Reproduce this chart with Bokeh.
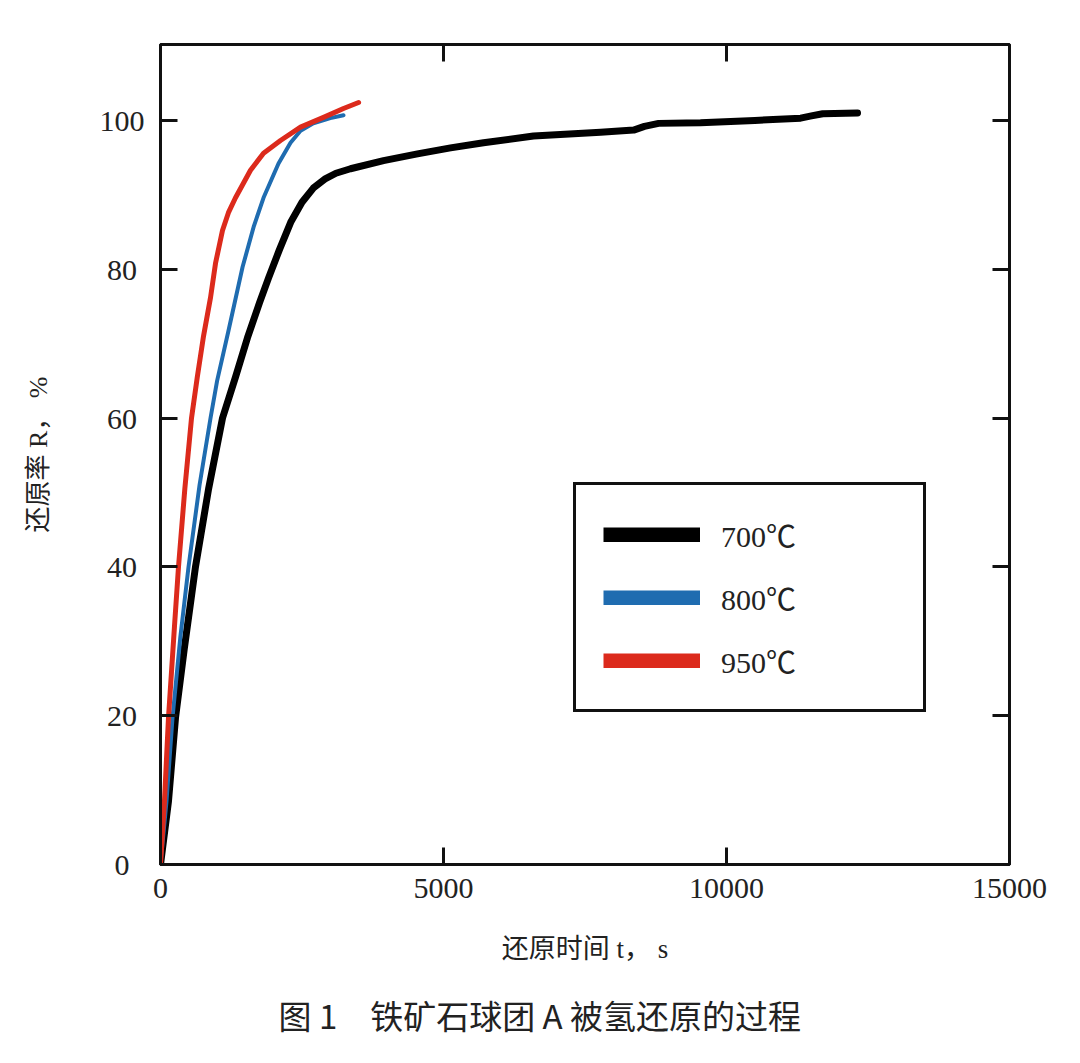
from bokeh.plotting import figure
from bokeh.models import (ColumnDataSource, FixedTicker, LinearAxis, Legend, LegendItem,
                          Range1d, Title)
from bokeh.embed import file_html
from bokeh.resources import INLINE

# ---- data ----
t_700 = [0, 141, 265, 420, 618, 850, 1096, 1325, 1537, 1750, 1908, 2100, 2300, 2500,
         2700, 2900, 3100, 3357, 3940, 4540, 5124, 5707, 6590, 7775, 8360, 8550, 8800,
         9540, 10500, 11310, 11500, 11700, 12315]
r_700 = [0, 8.5, 19.7, 29, 40, 50.5, 60, 65.5, 70.8, 75.5, 78.8, 82.6, 86.3, 89.0,
         90.9, 92.1, 92.9, 93.5, 94.6, 95.5, 96.3, 97.0, 97.9, 98.4, 98.7, 99.2, 99.6,
         99.7, 100.0, 100.3, 100.6, 100.9, 101.0]

t_800 = [0, 106, 212, 350, 495, 690, 884, 1000, 1200, 1450, 1650, 1820, 2085, 2297,
         2474, 2700, 3000, 3233]
r_800 = [0, 8.5, 19.7, 30.5, 40, 51, 60, 65, 71.7, 80.3, 85.8, 89.6, 94.2, 97.0,
         98.6, 99.6, 100.3, 100.7]

t_950 = [0, 70, 141, 247, 318, 430, 548, 650, 760, 884, 972, 1095, 1200, 1325, 1590,
         1820, 2120, 2474, 2880, 3233, 3500]
r_950 = [0, 8.5, 19.7, 32, 40, 50.5, 60, 65.5, 71.0, 76.2, 80.8, 85.2, 87.6, 89.6,
         93.3, 95.6, 97.3, 99.1, 100.4, 101.6, 102.4]

series_labels = ["700℃", "800℃", "950℃"]
x_ticks = [0, 5000, 10000, 15000]
y_ticks = [0, 20, 40, 60, 80, 100]
top_ticks = [5000, 10000]
right_ticks = [20, 40, 60, 80, 100]
x_title = "还原时间 t， s"
y_title = "还原率 R， %"
caption = "图 1\u3000铁矿石球团 A 被氢还原的过程"

colors = ["#000000", "#1f6cb0", "#dc2a1c"]
widths = [7, 4, 5]

serif = "'Liberation Serif', 'Noto Sans CJK SC'"

p = figure(width=1072, height=1063, output_backend="svg", toolbar_location=None,
           x_range=Range1d(0, 15000), y_range=Range1d(0, 110.2),
           min_border_left=160, min_border_right=63, min_border_top=44,
           min_border_bottom=199)
p.background_fill_color = "white"
p.border_fill_color = "white"
p.grid.visible = False
p.outline_line_color = "#111111"
p.outline_line_width = 3

series = [(t_700, r_700), (t_800, r_800), (t_950, r_950)]
for (tx, ry), c, w in zip(series, colors, widths):
    src = ColumnDataSource(dict(t=tx, r=ry))
    p.line("t", "r", source=src, line_color=c, line_width=w, line_join="round",
           line_cap="round")

# legend-only renderers (thick bars), one point each so nothing shows in the frame
items = []
for lab, c, (tx, ry) in zip(series_labels, colors, series):
    r = p.line(x=[tx[0]], y=[ry[0]], line_color=c, line_width=15, line_cap="butt")
    items.append(LegendItem(label=lab, renderers=[r]))

legend = Legend(items=items, location=(413, 152), orientation="vertical",
                border_line_color="#111111", border_line_width=3, border_line_alpha=1,
                background_fill_color="white", background_fill_alpha=1,
                glyph_width=97, glyph_height=15, label_standoff=21,
                padding=27, spacing=19, label_height=30, label_width=175,
                label_text_font=serif, label_text_font_size="30px",
                label_text_color="#222222", margin=0)
p.add_layout(legend, "center")

def style_axis(ax):
    ax.axis_line_color = "#111111"
    ax.axis_line_width = 3
    ax.major_tick_in = 17
    ax.major_tick_out = 0
    ax.major_tick_line_width = 3
    ax.major_tick_line_color = "#111111"
    ax.minor_tick_line_color = None

xa = p.xaxis[0]
xa.ticker = FixedTicker(ticks=x_ticks)
style_axis(xa)
xa.major_label_text_font = serif
xa.major_label_text_font_size = "30px"
xa.major_label_text_color = "#222222"
xa.major_label_standoff = 14
xa.axis_label = x_title
xa.axis_label_text_font = serif
xa.axis_label_text_font_size = "27px"
xa.axis_label_text_font_style = "normal"
xa.axis_label_text_color = "#222222"
xa.axis_label_standoff = 33

# y tick labels visually centred: pad shorter labels on the right with
# figure / four-per-em spaces (digit = 0.5 em in Liberation Serif)
pad = {1: "\u2007", 2: "\u2005", 3: ""}
ya = p.yaxis[0]
ya.ticker = FixedTicker(ticks=y_ticks)
style_axis(ya)
ya.major_label_overrides = {t: str(t) + pad[len(str(t))] for t in y_ticks}
ya.major_label_text_font = serif
ya.major_label_text_font_size = "30px"
ya.major_label_text_color = "#222222"
ya.major_label_standoff = 16
ya.axis_label = y_title
ya.axis_label_text_font = serif
ya.axis_label_text_font_size = "26px"
ya.axis_label_text_font_style = "normal"
ya.axis_label_text_color = "#222222"
ya.axis_label_standoff = 44

top = LinearAxis(ticker=FixedTicker(ticks=top_ticks))
style_axis(top)
top.major_label_overrides = {t: "" for t in top_ticks}
top.major_label_standoff = 0
p.add_layout(top, "above")

right = LinearAxis(ticker=FixedTicker(ticks=right_ticks))
style_axis(right)
right.major_label_overrides = {t: "" for t in right_ticks}
right.major_label_standoff = 0
p.add_layout(right, "right")

cap = Title(text=caption, align="left", offset=118, standoff=44,
            text_font="Noto Sans CJK SC", text_font_size="33px", text_color="#222222",
            text_font_style="normal")
p.add_layout(cap, "below")

open("out.html", "w").write(file_html(p, INLINE))
